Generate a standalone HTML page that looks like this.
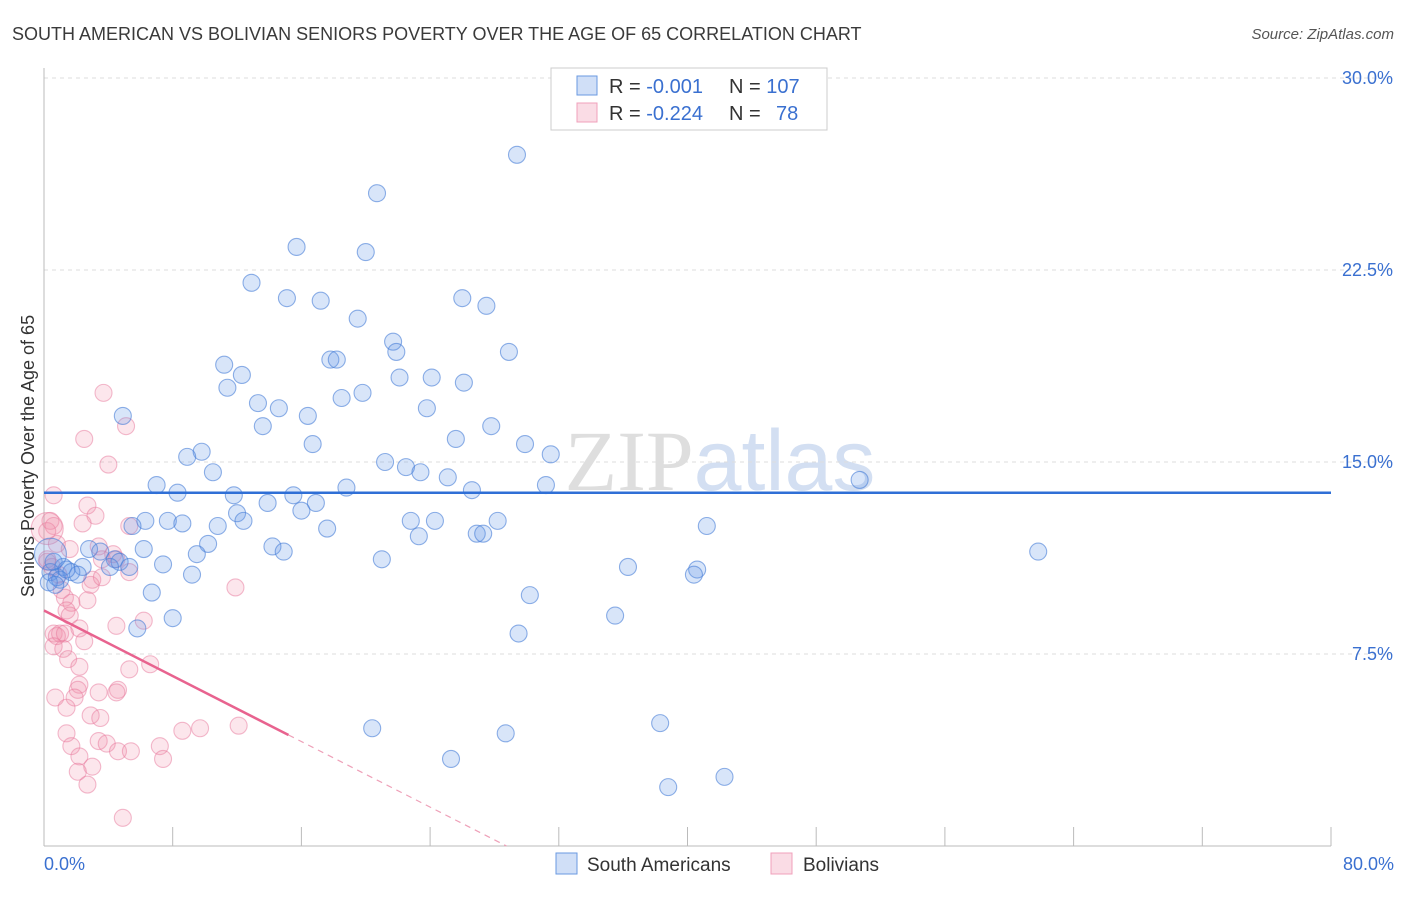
<!DOCTYPE html>
<html><head><meta charset="utf-8"><style>
body{margin:0;background:#fff;font-family:"Liberation Sans",sans-serif}
svg text{font-family:"Liberation Sans",sans-serif}
</style></head><body>
<svg id="chart" width="1406" height="892" xmlns="http://www.w3.org/2000/svg">
<text x="12" y="40" font-size="18" fill="#3a3a3a">SOUTH AMERICAN VS BOLIVIAN SENIORS POVERTY OVER THE AGE OF 65 CORRELATION CHART</text>
<text x="1394" y="39" font-size="15" fill="#555" text-anchor="end" font-style="italic">Source: ZipAtlas.com</text>
<text x="720" y="490" font-size="86" text-anchor="middle" fill="#e4e8ee"><tspan font-family="Liberation Serif" fill="#dedede">ZIP</tspan><tspan fill="#d3dff2">atlas</tspan></text>
<g id="grid"></g>
<g id="axes"></g>
<g id="pts"></g>
<g id="lines"></g>
<text transform="translate(34,456) rotate(-90)" font-size="18" fill="#333" text-anchor="middle">Seniors Poverty Over the Age of 65</text>
<g>
<rect x="551" y="68" width="276" height="62" fill="#fff" stroke="#ccc"/>
<rect x="577" y="76" width="20" height="19" fill="rgba(100,150,230,0.3)" stroke="#6a9ae0"/>
<rect x="577" y="103" width="20" height="19" fill="rgba(240,140,170,0.3)" stroke="#f0a0bb"/>
<text x="609" y="93" font-size="20" fill="#333">R = <tspan fill="#3a70d0">-0.001</tspan><tspan x="729">N = </tspan><tspan fill="#3a70d0">107</tspan></text>
<text x="609" y="120" font-size="20" fill="#333">R = <tspan fill="#3a70d0">-0.224</tspan><tspan x="729">N = </tspan><tspan x="776" fill="#3a70d0">78</tspan></text>
</g>
<g>
<rect x="556" y="853" width="21" height="21" fill="rgba(100,150,230,0.3)" stroke="#6a9ae0"/>
<text x="587" y="871" font-size="19" fill="#333">South Americans</text>
<rect x="771" y="853" width="21" height="21" fill="rgba(240,140,170,0.3)" stroke="#f0a0bb"/>
<text x="803" y="871" font-size="19" fill="#333">Bolivians</text>
</g>
</svg>
<script>
const blueX=[29.4,20.7,15.7,20.0,12.9,15.1,17.2,26.0,27.5,19.5,21.7,21.9,28.9,17.8,18.2,11.2,12.3,22.1,24.1,26.1,11.4,18.5,19.8,13.3,14.6,23.8,16.4,4.9,13.6,27.8,16.7,25.6,29.9,9.8,8.9,31.5,10.5,21.2,22.5,23.4,25.1,7.0,8.3,26.6,18.8,31.2,50.7,11.8,13.9,15.5,16.9,16.0,12.0,6.3,7.7,8.6,5.5,10.8,12.4,22.8,24.3,28.2,41.2,17.6,23.3,26.9,27.3,10.2,6.2,14.2,14.9,2.8,3.5,9.5,4.4,61.8,0.6,2.4,4.7,5.3,21.0,7.4,4.1,1.2,1.7,0.4,0.8,2.1,1.0,1.4,36.3,40.6,40.4,9.2,6.7,30.2,35.5,8.0,5.8,29.5,20.4,28.7,38.3,25.3,42.3,38.8,0.3,0.7,0.4];
const blueY=[27.0,25.5,23.4,23.2,22.0,21.4,21.3,21.4,21.1,20.6,19.7,19.3,19.3,19.0,19.0,18.8,18.4,18.3,18.3,18.1,17.9,17.5,17.7,17.3,17.1,17.1,16.8,16.8,16.4,16.4,15.7,15.9,15.7,15.4,15.2,15.3,14.6,15.0,14.8,14.6,14.4,14.1,13.8,13.9,14.0,14.1,14.3,13.7,13.4,13.7,13.4,13.1,13.0,12.7,12.7,12.6,12.5,12.5,12.7,12.7,12.7,12.7,12.5,12.4,12.1,12.2,12.2,11.8,11.6,11.7,11.5,11.6,11.5,11.4,11.2,11.5,11.1,10.9,11.1,10.9,11.2,11.0,10.9,10.9,10.7,10.7,10.5,10.6,10.4,10.8,10.9,10.8,10.6,10.6,9.9,9.8,9.0,8.9,8.5,8.3,4.6,4.4,4.8,3.4,2.7,2.3,10.3,10.2,11.4];
const blueR=[];blueR[blueX.length-1]=16;
const pinkX=[3.7,2.5,5.1,4.0,0.6,2.7,0.4,3.2,2.4,5.3,0.6,0.2,0.8,1.6,3.4,4.3,0.2,4.5,0.5,0.9,5.3,3.0,1.1,2.9,3.6,1.3,2.7,1.7,1.4,1.6,6.2,4.5,2.2,0.6,1.0,0.8,1.3,2.5,0.6,1.2,1.5,6.6,2.2,5.3,2.2,2.1,4.6,3.4,0.7,1.9,4.5,1.4,2.9,3.5,12.1,8.6,9.7,1.4,1.7,3.4,3.9,4.6,5.4,7.2,2.2,7.4,3.0,2.1,2.7,4.9,11.9,3.6,0.2,0.2];
const pinkY=[17.7,15.9,16.4,14.9,13.7,13.3,12.7,12.9,12.6,12.5,12.5,12.3,11.8,11.6,11.7,11.4,11.1,11.2,10.9,10.6,10.7,10.4,10.0,10.2,10.5,9.7,9.6,9.5,9.2,9.0,8.8,8.6,8.5,8.3,8.3,8.2,8.3,8.0,7.8,7.7,7.3,7.1,7.0,6.9,6.3,6.1,6.1,6.0,5.8,5.8,6.0,5.4,5.1,5.0,4.7,4.5,4.6,4.4,3.9,4.1,4.0,3.7,3.7,3.9,3.5,3.4,3.1,2.9,2.4,1.1,10.1,11.2,11.2,12.4];
const pinkR=[];pinkR[pinkX.length-1]=16;
const xTicks=[0,8,16,24,32,40,48,56,64,72,80];
const yTicks=[7.5,15,22.5,30];
const yTickLabels=["7.5%","15.0%","22.5%","30.0%"];
const xEndLabels=["0.0%","80.0%"];
const blueFit=[13.8,-0.0];
const pinkFit=[9.2,-0.32];
const pinkSolidEnd=15.2;

const X=v=>44+v*(1331-44)/80, Y=v=>846-v*25.6;
const NS="http://www.w3.org/2000/svg";
function mk(tag,parent,attrs){const e=document.createElementNS(NS,tag);for(const k in attrs)e.setAttribute(k,attrs[k]);parent.appendChild(e);return e;}
const grid=document.getElementById('grid'),axes=document.getElementById('axes'),pts=document.getElementById('pts'),lines=document.getElementById('lines');
yTicks.forEach((t,i)=>{
  const l=mk('line',grid,{x1:44,x2:1394,y1:Y(t),y2:Y(t),stroke:'#ddd','stroke-dasharray':'4,4'});
  
  
  const tx=mk('text',axes,{x:1393,y:Y(t)+6,'font-size':18,fill:'#3a70d0','text-anchor':'end'});
  tx.textContent=yTickLabels[i];
  
  
});
const ax=mk('line',axes,{x1:44,x2:1331,y1:846,y2:846,stroke:'#bbb'});


const ay=mk('line',axes,{x1:44,x2:44,y1:68,y2:846,stroke:'#bbb'});


xTicks.forEach(t=>{
  const l=mk('line',axes,{x1:X(t),x2:X(t),y1:827,y2:846,stroke:'#bbb'});
  
  
});
[[0,'start',44],[80,'end',1394]].forEach((d,i)=>{
  const tx=mk('text',axes,{x:d[2],y:870,'font-size':18,fill:'#3a70d0','text-anchor':d[1]});
  tx.textContent=xEndLabels[i];
  
  
});
function drawPts(xs,ys,rs,fill,stroke,name){
  xs.forEach((x,i)=>{
    const c=mk('circle',pts,{cx:X(x),cy:Y(ys[i]),r:rs[i]||8.5,fill:fill,stroke:stroke,'stroke-width':1.1});
    
    
  });
}
drawPts(pinkX,pinkY,pinkR,'rgba(240,140,170,0.22)','rgba(232,120,155,0.5)','bolivian-point');
drawPts(blueX,blueY,blueR,'rgba(100,150,230,0.25)','rgba(70,125,215,0.6)','south-american-point');
const bl=mk('line',lines,{x1:X(0),x2:X(80),y1:Y(blueFit[0]),y2:Y(blueFit[0]+blueFit[1]*80),stroke:'#2f6fd6','stroke-width':2.5});


const pl=mk('line',lines,{x1:X(0),x2:X(pinkSolidEnd),y1:Y(pinkFit[0]),y2:Y(pinkFit[0]+pinkFit[1]*pinkSolidEnd),stroke:'#e8638f','stroke-width':2.5});


const xz=-pinkFit[0]/pinkFit[1];
const pd=mk('line',lines,{x1:X(pinkSolidEnd),x2:X(xz),y1:Y(pinkFit[0]+pinkFit[1]*pinkSolidEnd),y2:Y(0),stroke:'#eea0b8','stroke-width':1.2,'stroke-dasharray':'6,5'});


</script>
</body></html>
